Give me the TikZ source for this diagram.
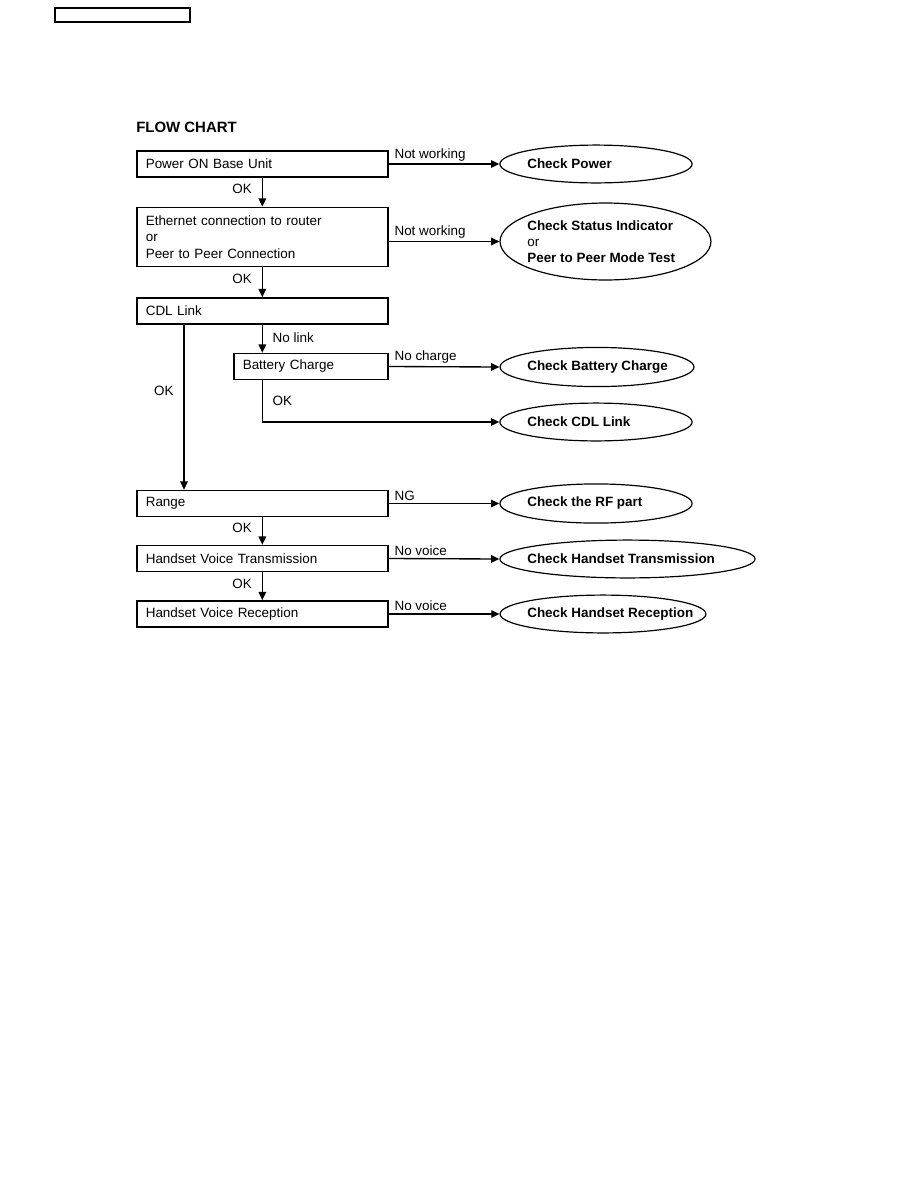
\documentclass[tikz,border=0pt]{standalone}
\usepackage{fontspec}
\setmainfont{Liberation Sans}
\usetikzlibrary{arrows.meta, positioning, shapes.geometric, calc}

\begin{document}
\begin{tikzpicture}[
  x=0.023519cm, y=-0.023519cm,
  every node/.style={font=\fontsize{9}{11}\selectfont},
  stepbox/.style={rectangle, draw, line width=1.1pt, anchor=west, align=left, inner xsep=6pt, inner ysep=1pt, text width=5.48cm, minimum height=0.61cm},
  checkoval/.style={ellipse, draw, line width=0.8pt, inner sep=0pt},
  checktxt/.style={anchor=west, align=left, inner sep=0pt, font=\fontsize{9}{10.7}\selectfont\bfseries},
  arr/.style={-{Triangle[length=5.5pt,width=5pt]}, line width=0.9pt},
  lbl/.style={inner sep=1.5pt},
]
\useasboundingbox (0,0) rectangle (918,1188);

% page header box
\draw[line width=0.9pt] (55,8) rectangle (190,22);

\node[anchor=west, inner sep=0pt, font=\fontsize{10}{12}\selectfont\bfseries] (title) at (136,127) {FLOW CHART};

% Left column: test steps
\node[stepbox] (power) at (136,164) {Power ON Base Unit};
\node[stepbox, minimum height=1.388cm] (eth) at (136,237) {Ethernet connection to router\\or\\Peer to Peer Connection};
\node[stepbox] (cdl) at (136,311) {CDL Link};
\node[stepbox, text width=3.2cm] (battery) at (233,366.5) {Battery Charge};
\node[stepbox] (range) at (136,503.5) {Range};
\node[stepbox] (hvt) at (136,558.5) {Handset Voice Transmission};
\node[stepbox] (hvr) at (136,614) {Handset Voice Reception};

% Right column: checks
\node[checkoval, minimum width=4.52cm, minimum height=0.89cm] (chkpower) at (596,164) {};
\node[checktxt] (chkpowertxt) at (527,164) {Check Power};

\node[checkoval, minimum width=4.96cm, minimum height=1.81cm] (chkstatus) at (605.5,241.5) {};
\node[checktxt] (chkstatustxt) at (527,242) {Check Status Indicator\\\mdseries or\\Peer to Peer Mode Test};

\node[checkoval, minimum width=4.56cm, minimum height=0.92cm] (chkbatt) at (597,367) {};
\node[checktxt] (chkbatttxt) at (527,367) {Check Battery Charge};

\node[checkoval, minimum width=4.52cm, minimum height=0.89cm] (chkcdl) at (596,422) {};
\node[checktxt] (chkcdltxt) at (527,422) {Check CDL Link};

\node[checkoval, minimum width=4.52cm, minimum height=0.92cm] (chkrf) at (596,503.5) {};
\node[checktxt] (chkrftxt) at (527,503.5) {Check the RF part};

\node[checkoval, minimum width=6.0cm, minimum height=0.89cm] (chkhvt) at (627.5,559) {};
\node[checktxt] (chkhvttxt) at (527,559) {Check Handset Transmission};

\node[checkoval, minimum width=4.84cm, minimum height=0.89cm] (chkhvr) at (603,614) {};
\node[checktxt] (chkhvrtxt) at (527,614) {Check Handset Reception};

% OK path down the left column
\draw[arr] (power.south) -- node[lbl, left=5pt, pos=0.4] {OK} (eth.north);
\draw[arr] (eth.south) -- node[lbl, left=5pt, pos=0.4] {OK} (cdl.north);
\draw[arr] ([xshift=48*0.023519cm]cdl.south west) -- node[lbl, left=5pt, pos=0.4] {OK} ([xshift=48*0.023519cm]range.north west);
\draw[arr] (cdl.south) -- node[lbl, right=5pt, pos=0.45] {No link} (cdl.south |- battery.north);
\draw[arr] (cdl.south |- battery.south) |- node[lbl, right=5pt, pos=0.25] {OK} (chkcdl.west);
\draw[arr] (range.south) -- node[lbl, left=5pt, pos=0.4] {OK} (hvt.north);
\draw[arr] (hvt.south) -- node[lbl, left=5pt, pos=0.4] {OK} (hvr.north);

% failure branches
\draw[arr] (power.east) -- node[lbl, anchor=south west, pos=0, xshift=2pt] {Not working} (chkpower.west);
\draw[arr] (eth.east |- chkstatus.west) -- node[lbl, anchor=south west, pos=0, xshift=2pt] {Not working} (chkstatus.west);
\draw[arr] (battery.east) -- node[lbl, anchor=south west, pos=0, xshift=2pt] {No charge} (chkbatt.west);
\draw[arr] (range.east) -- node[lbl, anchor=south west, pos=0, xshift=2pt] {NG} (chkrf.west);
\draw[arr] (hvt.east) -- node[lbl, anchor=south west, pos=0, xshift=2pt] {No voice} (chkhvt.west);
\draw[arr] (hvr.east) -- node[lbl, anchor=south west, pos=0, xshift=2pt] {No voice} (chkhvr.west);

\end{tikzpicture}
\end{document}
